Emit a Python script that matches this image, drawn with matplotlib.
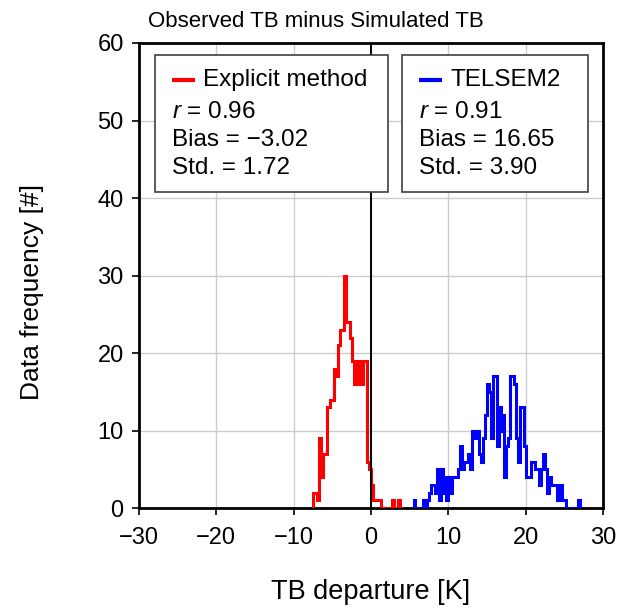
import numpy as np
import matplotlib
matplotlib.use("Agg")
import matplotlib.pyplot as plt
from matplotlib.patches import Rectangle

plt.rcParams["font.family"] = ["Liberation Sans", "DejaVu Sans"]
plt.rcParams["mathtext.fontset"] = "custom"
plt.rcParams["mathtext.it"] = "Liberation Sans:italic"
plt.rcParams["mathtext.rm"] = "Liberation Sans"

# histogram data (bin width 0.25 K)
bin_width = 0.25
red_start = -7.5
red_counts = [2, 2, 1, 9, 4, 7, 7, 13, 13, 14, 14, 18, 17, 21, 23, 23,
              30, 24, 24, 22, 19, 16, 19, 16, 19, 16, 19, 19, 6, 5, 3,
              1, 1, 1, 1, 0, 0, 0, 0, 0, 0, 1, 0, 0, 1, 0]
blue_start = 5.5
blue_counts = [1, 0, 0, 0, 0, 1, 0, 1, 2, 3, 3, 2, 5, 1, 5, 2, 4, 1, 4, 2,
               4, 4, 4, 5, 8, 5, 6, 6, 7, 5, 10, 10, 9, 10, 7, 6, 9, 12,
               16, 15, 9, 17, 17, 8, 13, 10, 12, 4, 8, 9, 17, 17, 16, 9,
               6, 13, 13, 8, 4, 4, 4, 6, 6, 5, 5, 3, 5, 7, 5, 2, 4, 3, 3,
               3, 1, 3, 3, 1, 1, 0, 0, 0, 0, 0, 0, 1, 0]

red_edges = red_start + bin_width * np.arange(len(red_counts) + 1)
blue_edges = blue_start + bin_width * np.arange(len(blue_counts) + 1)

stats = {
    "Explicit method": ("0.96", "\u22123.02", "1.72"),
    "TELSEM2": ("0.91", "16.65", "3.90"),
}
colors = {"Explicit method": "#ff0000", "TELSEM2": "#0000ff"}

fig = plt.figure(figsize=(6.28, 6.09), dpi=100)
ax = fig.add_axes([0.2213, 0.1658, 0.7389, 0.7636])

ax.stairs(red_counts, red_edges, color=colors["Explicit method"], lw=2.2, zorder=3)
ax.stairs(blue_counts, blue_edges, color=colors["TELSEM2"], lw=2.2, zorder=3)
ax.axvline(0, color="black", lw=1.4, zorder=4)

ax.set_xlim(-30, 30)
ax.set_ylim(0, 60)
ax.set_xticks(np.arange(-30, 31, 10))
ax.set_yticks(np.arange(0, 61, 10))
ax.grid(True, color="#cccccc", lw=1.0)
ax.set_axisbelow(True)
for s in ax.spines.values():
    s.set_linewidth(2.0)
    s.set_color("black")
ax.tick_params(direction="out", length=5, width=1.2, labelsize=17)
ax.tick_params(axis="x", pad=9)
ax.tick_params(axis="y", pad=6)

ax.set_xlabel("TB departure [K]", fontsize=19.5)
ax.set_ylabel("Data frequency [#]", fontsize=19)
ax.xaxis.set_label_coords(0.5, -0.152)
ax.yaxis.set_label_coords(-0.205, 0.465)
ax.text(0.02, 1.035, "Observed TB minus Simulated TB", transform=ax.transAxes,
        fontsize=16, ha="left", va="baseline")

# stats boxes
boxes = [("Explicit method", 0.0345, 0.5366), ("TELSEM2", 0.567, 0.968)]
for name, x0, x1 in boxes:
    r, bias, std = stats[name]
    ax.add_patch(Rectangle((x0, 0.680), x1 - x0, 0.294, transform=ax.transAxes,
                           facecolor="white", edgecolor="#404040", lw=1.2, zorder=5))
    tx = x0 + 0.036
    ax.plot([tx, tx + 0.05], [0.920, 0.920], transform=ax.transAxes,
            color=colors[name], lw=3, zorder=6, solid_capstyle="butt")
    ax.text(tx + 0.068, 0.920, name, transform=ax.transAxes, fontsize=17.5,
            va="center", ha="left", zorder=6)
    lines = [f"$r$ = {r}", f"Bias = {bias}", f"Std. = {std}"]
    for i, t in enumerate(lines):
        ax.text(tx, 0.852 - i * 0.060, t, transform=ax.transAxes, fontsize=17.5,
                va="center", ha="left", zorder=6)

fig.savefig("out.png", dpi=100)
